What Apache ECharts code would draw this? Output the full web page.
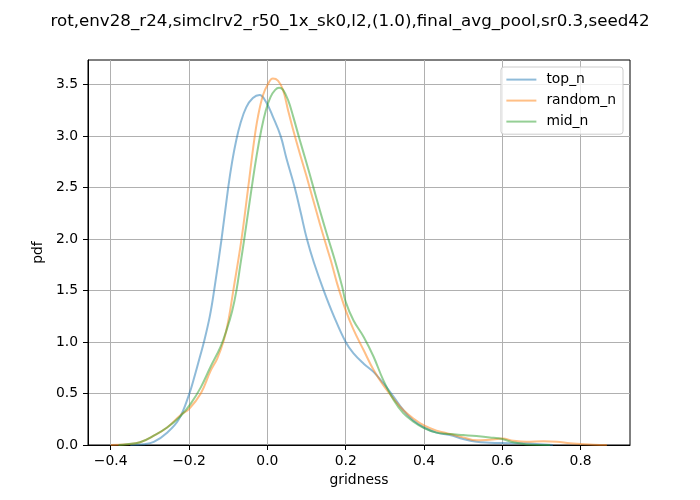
<!DOCTYPE html>
<html>
<head>
<meta charset="utf-8">
<script src="https://cdn.jsdelivr.net/npm/echarts@6/dist/echarts.min.js"></script>
<style>
  html, body { margin: 0; padding: 0; background: #fff; }
  #chart { width: 700px; height: 500px; }
</style>
</head>
<body>
<div id="chart"></div>
<script>
// values
var chartTitle = 'rot,env28_r24,simclrv2_r50_1x_sk0,l2,(1.0),final_avg_pool,sr0.3,seed42';
var seriesNames = ['top_n', 'random_n', 'mid_n'];
var xTicks = [-0.4, -0.2, 0.0, 0.2, 0.4, 0.6, 0.8];
var yTicks = [0.0, 0.5, 1.0, 1.5, 2.0, 2.5, 3.0, 3.5];

var topX = [-0.35, -0.316, -0.29, -0.256, -0.226, -0.2, -0.185, -0.172, -0.162, -0.147, -0.136, -0.117,
  -0.1, -0.09, -0.08, -0.069, -0.054, -0.037, -0.02, -0.003, 0.014, 0.034, 0.049, 0.07, 0.085,
  0.101, 0.119, 0.144, 0.17, 0.2, 0.22, 0.246, 0.271, 0.296, 0.322, 0.347, 0.372, 0.4, 0.432, 0.466, 0.5,
  0.534, 0.568, 0.6, 0.645, 0.688, 0.729];
var topY = [0, 0.007, 0.03, 0.12, 0.25, 0.49, 0.68, 0.86, 1.0, 1.25, 1.5, 2.0,
  2.5, 2.75, 2.95, 3.12, 3.28, 3.37, 3.4, 3.33, 3.19, 3.0, 2.78, 2.5, 2.26,
  2.0, 1.77, 1.5, 1.25, 1.0, 0.89, 0.79, 0.71, 0.6, 0.47, 0.34, 0.24, 0.17, 0.12, 0.097, 0.058,
  0.032, 0.023, 0.019, 0.016, 0.01, 0];

var randomX = [-0.4, -0.359, -0.325, -0.29, -0.256, -0.222, -0.2, -0.17, -0.145, -0.128, -0.111, -0.1,
  -0.087, -0.066, -0.049, -0.034, -0.024, -0.011, 0.002, 0.014, 0.027, 0.04, 0.053, 0.066, 0.083,
  0.1, 0.117, 0.134, 0.151, 0.163, 0.178, 0.2, 0.22, 0.246, 0.271, 0.296, 0.322, 0.347, 0.372, 0.4,
  0.432, 0.466, 0.5, 0.534, 0.568, 0.6, 0.628, 0.662, 0.705, 0.739, 0.773, 0.8, 0.833, 0.867];
var randomY = [0, 0.007, 0.026, 0.09, 0.17, 0.29, 0.35, 0.5, 0.72, 0.84, 1.02, 1.2,
  1.5, 2.0, 2.5, 2.95, 3.19, 3.4, 3.51, 3.56, 3.54, 3.45, 3.25, 3.06, 2.83,
  2.61, 2.38, 2.15, 1.93, 1.78, 1.57, 1.31, 1.12, 0.92, 0.73, 0.58, 0.45, 0.34, 0.26, 0.19,
  0.14, 0.107, 0.074, 0.045, 0.052, 0.062, 0.042, 0.032, 0.036, 0.032, 0.016, 0.01, 0.003, 0];

var midX = [-0.38, -0.359, -0.325, -0.29, -0.256, -0.222, -0.196, -0.17, -0.145, -0.12, -0.103, -0.09,
  -0.079, -0.069, -0.059, -0.04, -0.027, -0.016, -0.004, 0.008, 0.02, 0.03, 0.04, 0.053, 0.066, 0.083, 0.1,
  0.117, 0.134, 0.151, 0.172, 0.191, 0.2, 0.22, 0.246, 0.271, 0.296, 0.322, 0.347, 0.372, 0.4, 0.432,
  0.466, 0.5, 0.534, 0.568, 0.6, 0.628, 0.662, 0.722];
var midY = [0, 0.007, 0.026, 0.09, 0.17, 0.28, 0.4, 0.56, 0.76, 0.95, 1.13, 1.3,
  1.5, 1.75, 2.0, 2.5, 2.82, 3.05, 3.25, 3.38, 3.45, 3.47, 3.45, 3.35, 3.19, 2.96, 2.74,
  2.51, 2.28, 2.06, 1.8, 1.54, 1.39, 1.21, 1.05, 0.86, 0.63, 0.44, 0.31, 0.23, 0.165, 0.12,
  0.107, 0.097, 0.087, 0.074, 0.058, 0.026, 0.006, 0];

var colors = ['#1f77b4', '#ff7f0e', '#2ca02c'];

function pairs(xs, ys) {
  return xs.map(function (x, i) { return [x, ys[i]]; });
}

var font = 'DejaVu Sans';
var myChart = echarts.init(document.getElementById('chart'), null, { renderer: 'canvas' });

myChart.setOption({
  animation: false,
  backgroundColor: '#fff',
  title: {
    text: chartTitle,
    left: 'center',
    top: 8,
    textStyle: { fontFamily: font, fontSize: 16.7, fontWeight: 'normal', color: '#000' }
  },
  legend: {
    orient: 'vertical',
    right: 77,
    top: 67,
    icon: 'rect',
    itemWidth: 30,
    itemHeight: 2,
    itemGap: 7,
    padding: [5.6, 7, 5.6, 5.4],
    backgroundColor: 'rgba(255,255,255,0.8)',
    borderColor: '#cccccc',
    borderWidth: 1,
    borderRadius: 3,
    itemStyle: { opacity: 0.5 },
    textStyle: { fontFamily: font, fontSize: 13.9, lineHeight: 14, color: '#000', padding: [0, 0, 0, 5] },
    data: seriesNames
  },
  grid: {
    left: 88,
    right: 70,
    top: 60,
    bottom: 55,
    show: true,
    borderColor: '#000',
    borderWidth: 1,
    containLabel: false
  },
  xAxis: {
    type: 'value',
    min: -0.458,
    max: 0.926,
    name: 'gridness',
    nameLocation: 'middle',
    nameGap: 28,
    nameTextStyle: { fontFamily: font, fontSize: 13.9, color: '#000' },
    axisLine: { onZero: false, lineStyle: { color: '#000' } },
    axisTick: { customValues: xTicks, length: 5, lineStyle: { color: '#000' } },
    axisLabel: {
      customValues: xTicks,
      margin: 9,
      fontFamily: font, fontSize: 13.9, color: '#000',
      formatter: function (v) { return v.toFixed(1).replace('-', '\u2212'); }
    },
    splitLine: { show: true, lineStyle: { color: '#b0b0b0', width: 1 } }
  },
  yAxis: {
    type: 'value',
    min: 0,
    max: 3.74,
    name: 'pdf',
    nameLocation: 'middle',
    nameGap: 37,
    nameTextStyle: { fontFamily: font, fontSize: 13.9, color: '#000' },
    axisLine: { show: true, onZero: false, lineStyle: { color: '#000' } },
    axisTick: { show: true, customValues: yTicks, length: 5, lineStyle: { color: '#000' } },
    axisLabel: {
      customValues: yTicks,
      margin: 10,
      fontFamily: font, fontSize: 13.9, color: '#000',
      formatter: function (v) { return v.toFixed(1); }
    },
    splitLine: { show: true, lineStyle: { color: '#b0b0b0', width: 1 } }
  },
  series: [
    { name: seriesNames[0], data: pairs(topX, topY) },
    { name: seriesNames[1], data: pairs(randomX, randomY) },
    { name: seriesNames[2], data: pairs(midX, midY) }
  ].map(function (s, i) {
    return {
      name: s.name,
      type: 'line',
      data: s.data,
      smooth: 0.4,
      symbol: 'none',
      showSymbol: false,
      color: colors[i],
      lineStyle: { color: colors[i], width: 2, opacity: 0.5 }
    };
  })
});
</script>
</body>
</html>
